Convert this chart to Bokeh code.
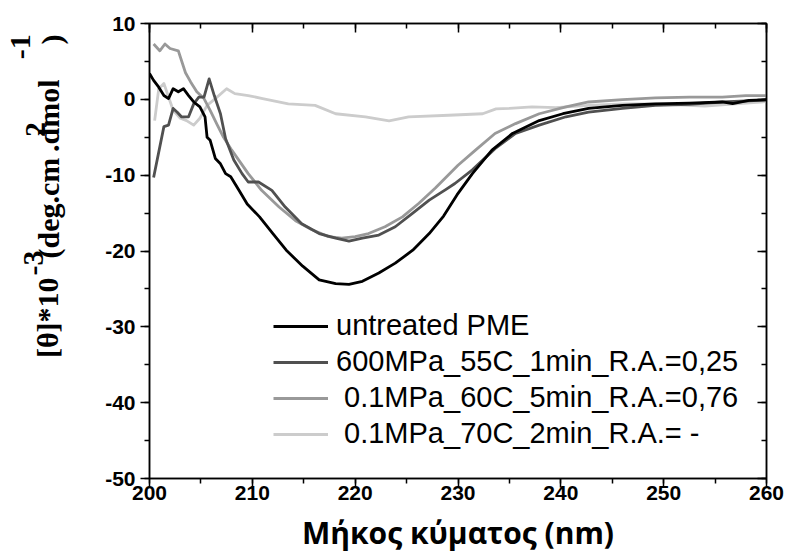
import math
from bokeh.plotting import figure
from bokeh.layouts import row
from bokeh.models import (Range1d, LinearAxis, SingleIntervalTicker, Legend,
                          LegendItem, PrintfTickFormatter)
from bokeh.core.properties import value
from bokeh.embed import file_html
from bokeh.resources import INLINE

# ---------------- data ----------------
untreated_x = [200, 200.4, 200.9, 201.4, 201.85, 202.3, 202.8, 203.3, 203.8, 204.3,
               204.9, 205.4, 205.6, 205.9, 206.4, 206.9, 207.4, 207.9, 208.7, 209.5,
               210.7, 212.0, 213.3, 214.9, 216.5, 218.1, 219.4, 220.7, 222.3, 223.9,
               225.6, 227.2, 228.6, 229.9, 231.4, 233.3, 235.3, 237.9, 240.2, 242.7,
               246.0, 249.2, 252.5, 255.7, 256.7, 258.3, 260]
untreated_y = [3.4, 2.5, 1.6, 0.5, 0.1, 1.4, 1.0, 1.4, 0.5, -0.35,
               -1.0, -2.3, -5.0, -5.4, -7.8, -8.5, -9.8, -10.2, -12.0, -13.8,
               -15.5, -17.7, -19.9, -22.0, -23.8, -24.3, -24.4, -24.0, -22.9, -21.6,
               -19.9, -17.7, -15.4, -12.6, -9.8, -6.7, -4.5, -2.8, -1.9, -1.2,
               -0.8, -0.6, -0.5, -0.35, -0.55, -0.15, -0.05]

hp600_x = [200.4, 201.4, 201.85, 202.3, 202.7, 203.1, 203.8, 204.3, 204.8, 205.3,
           205.8, 206.3, 206.9, 207.4, 208.2, 209.0, 209.6, 210.6, 211.9, 213.2,
           214.8, 216.5, 218.1, 219.4, 220.7, 222.3, 223.9, 225.6, 227.2, 228.8,
           229.7, 231.4, 233.6, 235.6, 237.9, 240.5, 242.7, 246.0, 249.2, 252.5,
           255.7, 260]
hp600_y = [-10.3, -3.6, -3.4, -1.2, -1.7, -2.3, -2.3, -0.6, 0.3, 0.3,
           2.7, 0.5, -1.9, -5.2, -8.0, -9.8, -10.9, -10.9, -12.0, -14.2,
           -16.4, -17.7, -18.3, -18.7, -18.3, -17.9, -16.8, -15.0, -13.3, -11.9,
           -11.1, -9.3, -6.5, -4.5, -3.4, -2.3, -1.7, -1.2, -0.8, -0.65,
           -0.35, -0.1]

t60_x = [200.4, 201.0, 201.5, 202.0, 202.8, 203.5, 204.0, 204.6, 205.3, 205.9,
         206.6, 207.2, 208.0, 208.8, 209.6, 210.9, 212.6, 214.2, 215.8, 217.4,
         218.7, 220.0, 221.3, 222.9, 224.6, 226.2, 227.8, 230.0, 231.7, 233.6,
         235.6, 237.9, 240.5, 242.7, 246.0, 249.2, 252.5, 255.7, 258.0, 260]
t60_y = [7.3, 6.4, 7.3, 6.7, 6.4, 3.5, 2.3, 1.0, 0.1, -1.45,
         -3.4, -5.0, -6.7, -8.25, -9.8, -12.0, -14.2, -16.0, -17.2, -18.1,
         -18.3, -18.1, -17.7, -16.8, -15.5, -13.7, -11.7, -8.7, -6.7, -4.5,
         -3.2, -1.9, -1.0, -0.35, -0.05, 0.2, 0.3, 0.3, 0.5, 0.5]

t70_x = [200.5, 200.9, 201.4, 201.85, 202.3, 203.0, 203.6, 204.3, 204.9, 205.6,
         206.4, 207.5, 208.3, 209.6, 211.0, 213.5, 216.1, 218.1, 221.0, 223.3,
         225.2, 229.1, 232.4, 233.7, 235.0, 237.2, 239.5, 242.7, 246.0, 249.2,
         254.0, 257.0, 260]
t70_y = [-2.8, 1.4, 2.1, 0.3, -1.45, -2.5, -2.8, -3.4, -2.5, -0.8,
         0.1, 1.4, 0.75, 0.5, 0.1, -0.6, -0.8, -1.9, -2.3, -2.85,
         -2.3, -2.1, -1.9, -1.25, -1.2, -1.0, -1.1, -0.8, -0.6, -0.6,
         -0.9, -0.6, -0.3]

series_labels = ["untreated PME", "600MPa_55C_1min_R.A.=0,25",
                 "\u00a00.1MPa_60C_5min_R.A.=0,76", "\u00a00.1MPa_70C_2min_R.A.= -"]
series_colors = ["#000000", "#505050", "#999999", "#cccccc"]

x_label = "Μήκος κύματος (nm)"
x_start, x_end = 200, 260
y_start, y_end = -50, 10

# y-axis title pieces (rotated; superscripts are separate pieces)
ylabel_texts = ["[θ]*10", "-3", "(deg.cm", "2", ".dmol", "-1", ")"]

# ---------------- layout geometry (pixels) ----------------
W, H = 787, 555
LW = 100                                   # width of the y-title strip
FL, FR, FT, FB = 149, 766, 23, 480          # frame edges in page pixels

# ---------------- y title strip ----------------
# its frame is aligned with the main plot's frame; its y range is in rows
lab = figure(width=LW, height=H, output_backend="svg", toolbar_location=None,
             x_range=Range1d(0, LW), y_range=Range1d(FB, FT), title=None,
             min_border_left=0, min_border_right=0, min_border_top=FT,
             min_border_bottom=H - FB, x_axis_location=None, y_axis_location=None)
lab.outline_line_color = None
lab.xgrid.visible = False
lab.ygrid.visible = False
lab.background_fill_color = "white"
lab.border_fill_color = "white"
# piece placement: start row and centre column
piece_rows = [359, 276, 259, 137, 152, 59, 44]
piece_cols = [47, 33, 48, 35, 48, 20, 51]
lab.text(x=piece_cols, y=piece_rows, text=ylabel_texts,
         angle=math.pi / 2, text_align="left", text_baseline="middle",
         text_font=value("Liberation Serif"), text_font_style="bold",
         text_font_size=value("30px"), text_color="black")

# ---------------- main figure ----------------
p = figure(width=W - LW, height=H, output_backend="svg", toolbar_location=None,
           x_range=Range1d(x_start, x_end), y_range=Range1d(y_start, y_end),
           title=None,
           min_border_left=FL - LW, min_border_right=W - FR, min_border_top=FT,
           min_border_bottom=H - FB)
p.background_fill_color = "white"
p.border_fill_color = "white"
p.xgrid.visible = False
p.ygrid.visible = False
p.outline_line_color = "black"
p.outline_line_width = 1.5

tick_font = "Liberation Sans"

def style_axis(ax, show_labels, inward):
    ax.axis_line_color = "black"
    ax.axis_line_width = 1.5
    ax.major_tick_line_color = "black"
    ax.major_tick_line_width = 1.5
    ax.minor_tick_line_color = "black"
    ax.minor_tick_line_width = 1.5
    if inward:
        ax.major_tick_in, ax.major_tick_out = 9, 0
        ax.minor_tick_in, ax.minor_tick_out = 5, 0
    else:
        ax.major_tick_in, ax.major_tick_out = 0, 9
        ax.minor_tick_in, ax.minor_tick_out = 0, 5
    if show_labels:
        ax.formatter = PrintfTickFormatter(format="%d")
        ax.major_label_text_font = tick_font
        ax.major_label_text_font_style = "bold"
        ax.major_label_text_font_size = "21px"
        ax.major_label_text_color = "black"
    else:
        ax.major_label_text_font_size = "0px"
        ax.major_label_text_color = None
        ax.major_label_standoff = 0

p.xaxis.ticker = SingleIntervalTicker(interval=10, num_minor_ticks=2)
p.yaxis.ticker = SingleIntervalTicker(interval=10, num_minor_ticks=2)
style_axis(p.xaxis[0], True, False)
style_axis(p.yaxis[0], True, False)
p.xaxis.major_label_standoff = -2
p.yaxis.major_label_standoff = 5
p.xaxis.axis_label = x_label
p.xaxis.axis_label_text_font = "Open Sans"
p.xaxis.axis_label_text_font_style = "bold"
p.xaxis.axis_label_text_font_size = "30px"
p.xaxis.axis_label_text_color = "black"
p.xaxis.axis_label_text_line_height = 0.8
p.xaxis.axis_label_standoff = 9

top_ax = LinearAxis(ticker=SingleIntervalTicker(interval=10, num_minor_ticks=2))
right_ax = LinearAxis(ticker=SingleIntervalTicker(interval=10, num_minor_ticks=2))
style_axis(top_ax, False, True)
style_axis(right_ax, False, True)
p.add_layout(top_ax, "above")
p.add_layout(right_ax, "right")

# ---------------- lines ----------------
xs = [untreated_x, hp600_x, t60_x, t70_x]
ys = [untreated_y, hp600_y, t60_y, t70_y]
renderers = [None] * 4
for i in [3, 2, 1, 0]:
    renderers[i] = p.line(xs[i], ys[i], line_color=series_colors[i], line_width=2.8,
                          line_join="round")

legend = Legend(items=[LegendItem(label=series_labels[i], renderers=[renderers[i]])
                       for i in range(4)],
                location=(124, 28), orientation="vertical")
legend.border_line_color = None
legend.background_fill_alpha = 0
legend.padding = 0
legend.margin = 0
legend.spacing = 3
legend.glyph_width = 55
legend.label_standoff = 8
legend.label_text_font = "Liberation Sans"
legend.label_text_font_size = "29px"
legend.label_text_color = "black"
p.add_layout(legend, "center")

layout = row(lab, p, spacing=0)
open("out.html", "w").write(file_html(layout, INLINE))
